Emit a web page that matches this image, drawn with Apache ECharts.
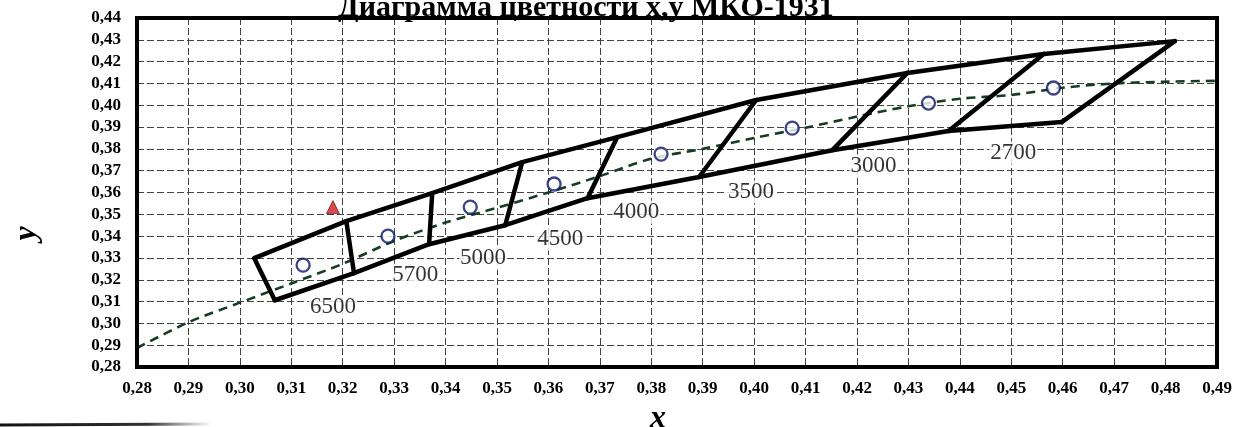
<!DOCTYPE html>
<html>
<head>
<meta charset="utf-8">
<script src="https://cdn.jsdelivr.net/npm/echarts@6/dist/echarts.min.js"></script>
<style>
html,body{margin:0;padding:0;background:#fff;}
#chart{width:1238px;height:427px;}
</style>
</head>
<body>
<div id="chart"></div>
<script>
// ---- data ----
var titleText = 'Диаграмма цветности x,y МКО-1931';
var temps = ['6500', '5700', '5000', '4500', '4000', '3500', '3000', '2700'];
// quadrangle boundary vertices (upper / lower edges, left to right)
var upperX = [0.3028, 0.3207, 0.3374, 0.3549, 0.3734, 0.4004, 0.4298, 0.4563, 0.4818];
var upperY = [0.3299, 0.3469, 0.3597, 0.3739, 0.3854, 0.4024, 0.4148, 0.4235, 0.4294];
var lowerX = [0.3068, 0.3222, 0.3368, 0.3516, 0.3676, 0.3893, 0.4152, 0.4378, 0.4598];
var lowerY = [0.3106, 0.3230, 0.3363, 0.3450, 0.3574, 0.3671, 0.3794, 0.3882, 0.3923];
// quadrangle centers
var centerX = [0.3123, 0.3288, 0.3448, 0.3611, 0.3819, 0.4074, 0.4339, 0.4582];
var centerY = [0.3267, 0.3400, 0.3533, 0.3639, 0.3776, 0.3895, 0.4010, 0.4079];
// temperature label anchors
var labelX = [0.3181, 0.3341, 0.3473, 0.3623, 0.3771, 0.3994, 0.4232, 0.4504];
var labelY = [0.3074, 0.3221, 0.3299, 0.3386, 0.3510, 0.3602, 0.3721, 0.3781];
// Planckian locus (dashed)
var locusX = [0.28, 0.29, 0.30, 0.31, 0.32, 0.33, 0.34, 0.35, 0.36, 0.37, 0.38, 0.39, 0.40, 0.41, 0.42, 0.43, 0.44, 0.45, 0.46, 0.47, 0.48, 0.49];
var locusY = [0.2887, 0.3005, 0.3095, 0.3183, 0.3273, 0.3378, 0.3462, 0.3530, 0.3600, 0.3675, 0.3755, 0.3800, 0.3850, 0.3897, 0.3948, 0.3995, 0.4030, 0.4047, 0.4080, 0.4100, 0.4108, 0.4112];
// measured point
var pointX = [0.3181];
var pointY = [0.3533];
// axes
var xMin = 0.28, xMax = 0.49, yMin = 0.28, yMax = 0.44, step = 0.01;

// ---- build ----
function zip(a, b) { return a.map(function (v, i) { return [v, b[i]]; }); }
var serif = 'Liberation Serif, Times New Roman, serif';
var series = [];
var quadStyle = { color: '#000', width: 4.5, cap: 'round', join: 'round' };
series.push({ type: 'line', data: zip(upperX, upperY), symbol: 'none', lineStyle: quadStyle, z: 4, silent: true });
series.push({ type: 'line', data: zip(lowerX, lowerY), symbol: 'none', lineStyle: quadStyle, z: 4, silent: true });
for (var i = 0; i < upperX.length; i++) {
  series.push({ type: 'line', data: [[upperX[i], upperY[i]], [lowerX[i], lowerY[i]]], symbol: 'none', lineStyle: quadStyle, z: 4, silent: true });
}
series.push({
  type: 'line', data: zip(locusX, locusY), symbol: 'none', smooth: 0.3,
  lineStyle: { color: '#163d22', width: 2.6, type: [9, 6] }, z: 3, silent: true
});
series.push({
  type: 'scatter', data: zip(centerX, centerY), symbol: 'circle', symbolSize: 13,
  itemStyle: { color: '#fff', borderColor: '#0a1666', borderWidth: 2.3 }, z: 6, silent: true
});
series.push({
  type: 'scatter', data: zip(pointX, pointY), symbol: 'triangle', symbolSize: 13,
  itemStyle: { color: '#d41c1c', borderColor: '#5a0a0a', borderWidth: 0.8 }, z: 6, silent: true
});
series.push({
  type: 'scatter', data: labelX.map(function (x, i) { return { value: [x, labelY[i]], name: temps[i] }; }),
  symbolSize: 0, z: 7, silent: true, itemStyle: { color: '#000' },
  label: {
    show: true, position: 'inside', formatter: function (p) { return p.name; },
    fontFamily: serif, fontSize: 23, color: '#000', textBorderWidth: 0, textBorderColor: 'transparent',
    backgroundColor: '#fff', padding: [0, 1, 0, 1]
  }
});

var chart = echarts.init(document.getElementById('chart'), null, { renderer: 'canvas' });
chart.setOption({
  animation: false,
  backgroundColor: '#fff',
  title: {
    text: titleText, left: 333, top: -12,
    textStyle: { fontFamily: serif, fontSize: 30, fontWeight: 'bold', color: '#000' }
  },
  grid: { left: 137, right: 21, top: 18, bottom: 60, show: true, borderColor: '#000', borderWidth: 4,
    backgroundColor: 'transparent', z: 5, containLabel: false, outerBoundsMode: 'none' },
  xAxis: {
    type: 'value', min: xMin, max: xMax, interval: step,
    name: 'x', nameLocation: 'middle', nameGap: 36,
    nameTextStyle: { fontFamily: serif, fontSize: 32, fontStyle: 'italic', fontWeight: 'bold', color: '#000',
      padding: [0, 38, 0, 0] },
    axisLine: { show: false }, axisTick: { show: false },
    axisLabel: { margin: 13, fontFamily: serif, fontSize: 17, fontWeight: 'bold', color: '#000',
      formatter: function (v) { return v.toFixed(2).replace('.', ','); } },
    splitLine: { show: true, lineStyle: { color: '#444', width: 1, type: [7, 3] } }
  },
  yAxis: {
    type: 'value', min: yMin, max: yMax, interval: step,
    name: 'y', nameLocation: 'middle', nameGap: 94, nameRotate: 90,
    nameTextStyle: { fontFamily: serif, fontSize: 32, fontStyle: 'italic', fontWeight: 'bold', color: '#000',
      padding: [0, 82, 0, 0] },
    axisLine: { show: false }, axisTick: { show: false },
    axisLabel: { margin: 16, fontFamily: serif, fontSize: 17, fontWeight: 'bold', color: '#000',
      formatter: function (v) { return v.toFixed(2).replace('.', ','); } },
    splitLine: { show: true, lineStyle: { color: '#444', width: 1, type: [7, 3] } }
  },
  graphic: [{
    type: 'line', shape: { x1: 0, y1: 425, x2: 210, y2: 424 },
    style: { lineWidth: 3, stroke: new echarts.graphic.LinearGradient(0, 0, 1, 0, [
      { offset: 0, color: '#111' }, { offset: 0.7, color: '#333' }, { offset: 1, color: 'rgba(80,80,80,0)' }]) }
  }],
  series: series
});
</script>
</body>
</html>
